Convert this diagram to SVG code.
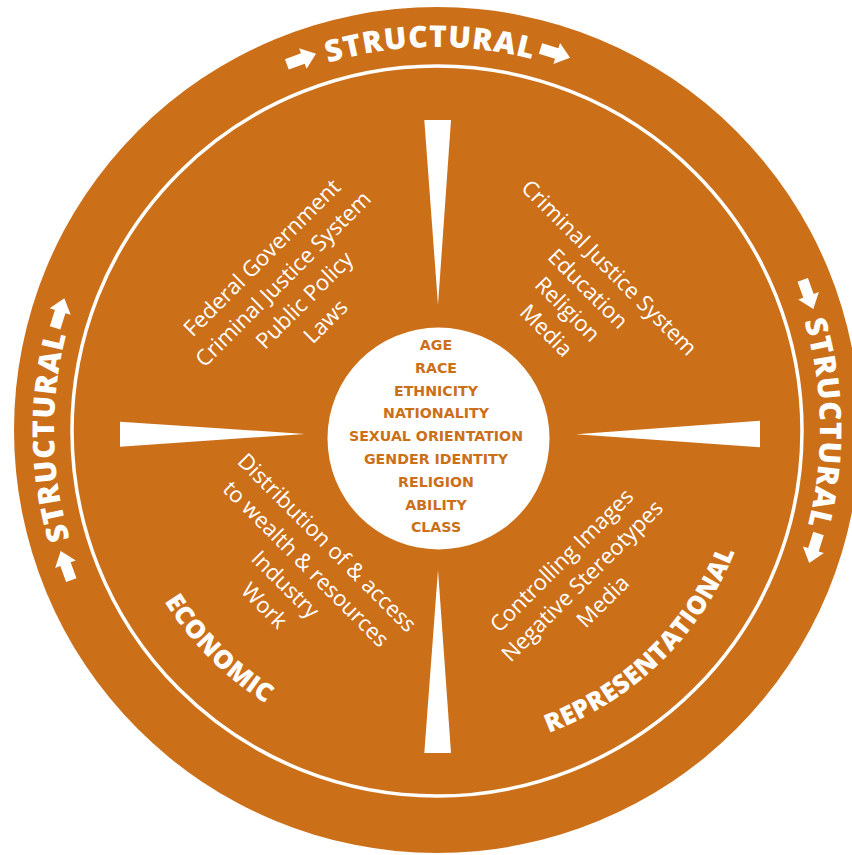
<svg xmlns="http://www.w3.org/2000/svg" xmlns:xlink="http://www.w3.org/1999/xlink" width="852" height="855" viewBox="0 0 852 855">
<style>
.q{font-family:"Open Sans","Liberation Sans",sans-serif;font-size:22px;fill:#fff;text-anchor:middle}
.c{font-family:"DejaVu Sans",sans-serif;font-weight:bold;font-size:14.2px;fill:#cc6f19;text-anchor:middle}
.h{font-family:"Open Sans","Liberation Sans",sans-serif;font-weight:800;fill:#fff;text-anchor:middle}
.s{font-size:30px;letter-spacing:1px}
.i{font-size:25.5px;letter-spacing:0.4px}
.arr{fill:#fff}
</style>
<defs>
<path id="ring" d="M 437 813 A 383 383 0 0 1 437 47 A 383 383 0 0 1 437 813"/>
<path id="inner" d="M 116 432 A 321 321 0 0 0 758 432"/>
<path id="arrow" d="M -16 -5.5 L 1 -5.5 L 1 -11 L 15 0 L 1 11 L 1 5.5 L -16 5.5 Z"/>
</defs>
<rect width="852" height="855" fill="#fff"/>
<g id="outer">
<circle cx="437" cy="430" r="423" fill="#cc6f19"/>
<circle cx="437" cy="431" r="365" fill="none" stroke="#fff" stroke-width="3.5"/>
</g>
<g id="dividers" fill="#fff">
<polygon points="424.3,120 451,120 438,305"/>
<polygon points="424.3,753 451,753 438,570"/>
<polygon points="120,421.7 120,446.7 305,434"/>
<polygon points="760,420.7 760,447.3 576,434.3"/>
</g>
<g id="structural-labels">
<text class="h s"><textPath xlink:href="#ring" href="#ring" startOffset="24.72%">STRUCTURAL</textPath></text>
<text class="h s"><textPath xlink:href="#ring" href="#ring" startOffset="49.72%">STRUCTURAL</textPath></text>
<text class="h s"><textPath xlink:href="#ring" href="#ring" startOffset="74.72%">STRUCTURAL</textPath></text>
<use class="arr" href="#arrow" xlink:href="#arrow" transform="translate(437 430) rotate(-110) translate(395 0) rotate(90)"/>
<use class="arr" href="#arrow" xlink:href="#arrow" transform="translate(437 430) rotate(-72.5) translate(395 0) rotate(90)"/>
<use class="arr" href="#arrow" xlink:href="#arrow" transform="translate(437 430) rotate(-20) translate(395 0) rotate(90)"/>
<use class="arr" href="#arrow" xlink:href="#arrow" transform="translate(437 430) rotate(17.5) translate(395 0) rotate(90)"/>
<use class="arr" href="#arrow" xlink:href="#arrow" transform="translate(437 430) rotate(160) translate(395 0) rotate(90)"/>
<use class="arr" href="#arrow" xlink:href="#arrow" transform="translate(437 430) rotate(197.3) translate(395 0) rotate(90)"/>
</g>
<g id="economic-label">
<text class="h i"><textPath xlink:href="#inner" href="#inner" startOffset="24.9%">ECONOMIC</textPath></text>
</g>
<g id="representational-label">
<text class="h i"><textPath xlink:href="#inner" href="#inner" startOffset="74.6%">REPRESENTATIONAL</textPath></text>
</g>
<g id="quadrant-upper-left" transform="rotate(-45)">
<text class="q" x="3" y="375">Federal Government</text>
<text class="q" x="3" y="405">Criminal Justice System</text>
<text class="q" x="3" y="435">Public Policy</text>
<text class="q" x="3" y="465">Laws</text>
</g>
<g id="quadrant-upper-right" transform="rotate(45)">
<text class="q" x="620" y="-234">Criminal Justice System</text>
<text class="q" x="620" y="-204">Education</text>
<text class="q" x="620" y="-175">Religion</text>
<text class="q" x="620" y="-145">Media</text>
</g>
<g id="quadrant-lower-left" transform="rotate(45)">
<text class="q" x="615" y="160">Distribution of &amp; access</text>
<text class="q" x="615" y="190">to wealth &amp; resources</text>
<text class="q" x="615" y="219">Industry</text>
<text class="q" x="615" y="249">Work</text>
</g>
<g id="quadrant-lower-right" transform="rotate(-45)">
<text class="q" x="1" y="801">Controlling Images</text>
<text class="q" x="1" y="830">Negative Stereotypes</text>
<text class="q" x="1" y="859">Media</text>
</g>
<g id="identities">
<circle cx="438.5" cy="438.5" r="111" fill="#fff"/>
<text class="c" x="436" y="350">AGE</text>
<text class="c" x="436" y="372.8">RACE</text>
<text class="c" x="436" y="395.6">ETHNICITY</text>
<text class="c" x="436" y="418.4">NATIONALITY</text>
<text class="c" x="436" y="441.2">SEXUAL ORIENTATION</text>
<text class="c" x="436" y="464">GENDER IDENTITY</text>
<text class="c" x="436" y="486.8">RELIGION</text>
<text class="c" x="436" y="509.6">ABILITY</text>
<text class="c" x="436" y="532.4">CLASS</text>
</g>
</svg>
